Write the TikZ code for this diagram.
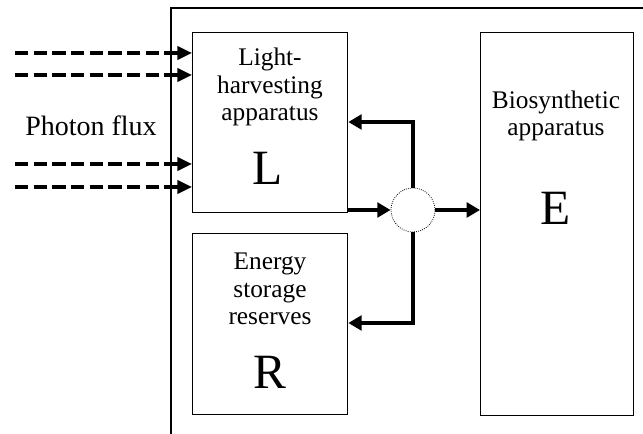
\documentclass[tikz,border=0pt]{standalone}
\usepackage{fontspec}
\setmainfont{Liberation Serif}
\usetikzlibrary{arrows.meta}
\begin{document}
\begin{tikzpicture}[x=0.75pt,y=-0.75pt,
  box/.style={draw,line width=1pt,anchor=north west,inner sep=0pt},
  lbl/.style={align=center,inner sep=0pt,font=\fontsize{19}{20.5}\selectfont},
  big/.style={inner sep=0pt,font=\fontsize{37}{40}\selectfont},
  photon/.style={line width=2.3pt,dash pattern=on 10pt off 4pt,-{Triangle[length=11pt,width=10pt]}},
  flow/.style={line width=3.6pt,-{Triangle[length=10pt,width=11pt]}},
  hub/.style={circle,draw,densely dotted,line width=0.6pt,minimum size=33pt,inner sep=0pt}]
\useasboundingbox (0,0) rectangle (643,434);
% outer frame (open)
\coordinate (fb) at (171,434);
\coordinate (ft) at (643,8);
\draw[line width=1.5pt] (fb) |- (ft);
% boxes
\node[box,minimum width=116.25pt,minimum height=135pt] (L) at (192,32) {};
\node[box,minimum width=116.25pt,minimum height=135.75pt] (R) at (192,233) {};
\node[box,minimum width=114.75pt,minimum height=287.25pt] (E) at (480,32) {};
\node[hub] (C) at (413,210) {};
% labels
\node[lbl] (Lt) at (270,87) {Light-\\harvesting\\apparatus};
\node[big] (Lb) at (268,168) {L};
\node[lbl] (Rt) at (270,289) {Energy\\storage\\reserves};
\node[big] (Rb) at (270,372) {R};
\node[lbl] (Et) at (556,116) {Biosynthetic\\apparatus};
\node[big] (Eb) at (556,208) {E};
\node[inner sep=0pt,font=\fontsize{21}{24}\selectfont] (P) at (91,126) {Photon flux};
% photon arrows
\coordinate (p1) at (15,53);
\coordinate (p2) at (15,75);
\coordinate (p3) at (15,164);
\coordinate (p4) at (15,187);
\foreach \p in {p1,p2,p3,p4}
  \draw[photon] (\p) -- (\p -| L.west);
% flows
\draw[flow] (C.west -| L.east) -- (C.west);
\draw[flow] (C.east) -- (C.east -| E.west);
\coordinate (up) at (413,122);
\coordinate (dn) at (413,323);
\draw[flow] (C.north) -- (up) -- (up -| L.east);
\draw[flow] (C.south) -- (dn) -- (dn -| R.east);
\end{tikzpicture}
\end{document}
